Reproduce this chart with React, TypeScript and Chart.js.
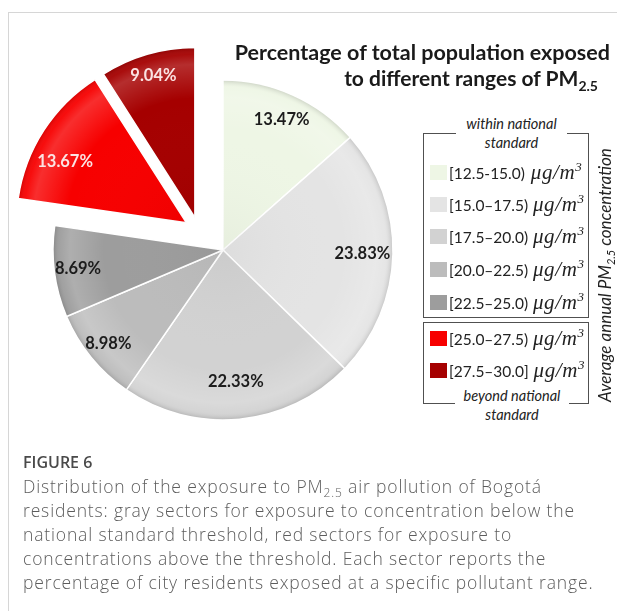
import React, { useEffect, useRef } from "react";
import { Chart, registerables } from "chart.js";

Chart.register(...registerables);

// ---- data ----
const categories = [
  "[12.5-15.0)",
  "[15.0–17.5)",
  "[17.5–20.0)",
  "[20.0–22.5)",
  "[22.5–25.0)",
  "[25.0–27.5)",
  "[27.5–30.0]",
];
const shares = [13.47, 23.83, 22.33, 8.98, 8.69, 13.67, 9.04];
const sliceColors = ["#eef6e5", "#e4e4e4", "#d2d2d2", "#bcbcbc", "#9d9d9d", "#f70000", "#a50000"];
const labelColors = ["#1c1c1c", "#1c1c1c", "#1c1c1c", "#1c1c1c", "#1c1c1c", "#fbe3e3", "#fbe3e3"];
const beyondStandard = [false, false, false, false, false, true, true];
const unitText = "μg/m";
const captionLines = [
  ["Distribution of the exposure to PM", "2.5", " air pollution of Bogotá"],
  ["residents: gray sectors for exposure to concentration below the"],
  ["national standard threshold, red sectors for exposure to"],
  ["concentrations above the threshold. Each sector reports the"],
  ["percentage of city residents exposed at a specific pollutant range."],
];

// label placement style (fraction of radius, angular nudge in degrees)
const labelRadius = [0.84, 0.82, 0.78, 0.87, 0.86, 0.8, 0.87];
const labelNudge = [0, 0, 0, 0, 0, -6, 0];

const explodePlugin = {
  id: "explodeGroup",
  afterDatasetsUpdate(chart: any) {
    chart.$explodeDone = false;
  },
  beforeDatasetsDraw(chart: any, _args: any, opts: any) {
    if (chart.$explodeDone) return;
    const arcs: any[] = chart.getDatasetMeta(0).data;
    const idx = beyondStandard.map((b, i) => (b ? i : -1)).filter((i) => i >= 0);
    if (!idx.length) return;
    const mid = (arcs[idx[0]].startAngle + arcs[idx[idx.length - 1]].endAngle) / 2;
    const gx = Math.cos(mid) * opts.group;
    const gy = Math.sin(mid) * opts.group;
    idx.forEach((i, k) => {
      const a = arcs[i];
      let dx = gx;
      let dy = gy;
      if (k < idx.length - 1) {
        const e = a.endAngle;
        dx += Math.sin(e) * opts.gap;
        dy += -Math.cos(e) * opts.gap;
      }
      a.x += dx;
      a.y += dy;
    });
    chart.$explodeDone = true;
  },
};

const shadePlugin = {
  id: "sliceShade",
  afterDatasetsDraw(chart: any) {
    const ctx = chart.ctx;
    const arcs: any[] = chart.getDatasetMeta(0).data;
    arcs.forEach((a) => {
      const r = a.outerRadius;
      ctx.save();
      ctx.beginPath();
      ctx.moveTo(a.x, a.y);
      ctx.arc(a.x, a.y, r - 0.75, a.startAngle + 0.004, a.endAngle - 0.004);
      ctx.closePath();
      ctx.clip();
      const g = ctx.createRadialGradient(a.x, a.y, 0, a.x, a.y, r);
      g.addColorStop(0, "rgba(0,0,0,0.03)");
      g.addColorStop(0.7, "rgba(255,255,255,0)");
      g.addColorStop(0.9, "rgba(255,255,255,0.18)");
      g.addColorStop(0.96, "rgba(255,255,255,0.05)");
      g.addColorStop(1, "rgba(0,0,0,0.14)");
      ctx.fillStyle = g;
      ctx.fillRect(a.x - r, a.y - r, 2 * r, 2 * r);
      ctx.restore();
    });
  },
};

const labelPlugin = {
  id: "sliceLabels",
  afterDatasetsDraw(chart: any) {
    const ctx = chart.ctx;
    const arcs: any[] = chart.getDatasetMeta(0).data;
    ctx.save();
    ctx.font = "bold 16.5px Lato";
    ctx.textAlign = "center";
    ctx.textBaseline = "middle";
    arcs.forEach((a, i) => {
      const mid = (a.startAngle + a.endAngle) / 2 + (labelNudge[i] * Math.PI) / 180;
      const r = a.outerRadius * labelRadius[i];
      ctx.fillStyle = labelColors[i];
      ctx.fillText(shares[i].toFixed(2) + "%", a.x + Math.cos(mid) * r, a.y + Math.sin(mid) * r);
    });
    ctx.restore();
  },
};

const abs = (s: React.CSSProperties): React.CSSProperties => ({ position: "absolute", ...s });

function Unit({ space }: { space: boolean }) {
  return (
    <span style={{ fontFamily: "'Liberation Serif'", fontStyle: "italic", fontSize: 21, letterSpacing: "0.6px" }}>
      {space ? " " : "\u2009"}
      {unitText}
      <span style={{ fontSize: 13, position: "relative", top: -8 }}>3</span>
    </span>
  );
}

export default function App() {
  const ref = useRef<HTMLCanvasElement | null>(null);

  useEffect(() => {
    if (!ref.current) return;
    const chart = new Chart(ref.current, {
      type: "pie",
      data: {
        labels: categories,
        datasets: [
          {
            data: shares,
            backgroundColor: sliceColors,
            borderColor: "#ffffff",
            borderWidth: 1.5,
          },
        ],
      },
      options: {
        responsive: false,
        animation: false,
        radius: 170,
        rotation: 0,
        layout: { padding: { left: 0, top: 0, right: 171, bottom: 111 } },
        plugins: {
          legend: { display: false },
          tooltip: { enabled: false },
          title: { display: false },
          explodeGroup: { group: 43, gap: 10 },
        } as any,
        events: [],
      },
      plugins: [explodePlugin, shadePlugin, labelPlugin],
    });
    return () => chart.destroy();
  }, []);

  const rowY = [172, 204, 236, 269, 302, 338, 370];
  const lineColor = "#505050";

  return (
    <div style={abs({ left: 0, top: 0, width: 617, height: 611, background: "#fff", overflow: "hidden" })}>
      <div style={abs({ left: 8, top: 12, width: 609, height: 1, background: "#d6d6d6" })} />
      <div style={abs({ left: 8, top: 12, width: 1, height: 599, background: "#d6d6d6" })} />
      <canvas ref={ref} width={617} height={611} style={abs({ left: 0, top: 0 })} />

      {/* title */}
      <div style={abs({ right: 7, top: 39, font: "bold 21.5px Lato", color: "#1a1a1a", lineHeight: "26px", whiteSpace: "nowrap" })}>
        Percentage of total population exposed
      </div>
      <div style={abs({ right: 19, top: 65, font: "bold 21px Lato", color: "#1a1a1a", lineHeight: "26px", whiteSpace: "nowrap" })}>
        to different ranges of PM<span style={{ fontSize: 14, position: "relative", top: 5 }}>2.5</span>
      </div>

      {/* legend boxes */}
      <div style={abs({ left: 423, top: 133, width: 164, height: 183, border: `1px solid ${lineColor}` })} />
      <div style={abs({ left: 423, top: 322, width: 164, height: 80, border: `1px solid ${lineColor}` })} />
      <div
        style={abs({ left: 456, top: 114, width: 111, background: "#fff", textAlign: "center", font: "italic 14.5px Lato", color: "#222", lineHeight: "19px", whiteSpace: "nowrap" })}
      >
        within national
        <br />
        standard
      </div>
      <div
        style={abs({ left: 455, top: 386, width: 114, background: "#fff", textAlign: "center", font: "italic 14.5px Lato", color: "#222", lineHeight: "19px", whiteSpace: "nowrap" })}
      >
        beyond national
        <br />
        standard
      </div>
      {categories.map((c, i) => (
        <React.Fragment key={c}>
          <div style={abs({ left: 430, top: rowY[i] - 7, width: 17, height: 15, background: sliceColors[i] })} />
          <div style={abs({ left: 449, top: rowY[i] - 12, font: "15.5px Lato", color: "#222", lineHeight: "24px", whiteSpace: "nowrap" })}>
            {c}
            <Unit space={i === 0} />
          </div>
        </React.Fragment>
      ))}
      <div
        style={abs({
          left: 605 - 150,
          top: 275 - 11,
          width: 300,
          height: 22,
          lineHeight: "22px",
          textAlign: "center",
          font: "italic 17px Lato",
          color: "#222",
          whiteSpace: "nowrap",
          transform: "rotate(-90deg)",
        })}
      >
        Average annual PM<span style={{ fontSize: 11, position: "relative", top: 4 }}>2.5</span> concentration
      </div>

      {/* caption */}
      <div style={abs({ left: 23, top: 452, font: "600 16px 'Open Sans'", color: "#4a4a4a", lineHeight: "20px" })}>FIGURE 6</div>
      {captionLines.map((parts, i) => (
        <div
          key={i}
          style={abs({
            left: 23,
            top: 474 + i * 24,
            font: "300 17.5px 'Open Sans'",
            letterSpacing: "0.85px",
            color: "#5c5c5c",
            lineHeight: "24px",
            whiteSpace: "nowrap",
          })}
        >
          {parts.length === 3 ? (
            <>
              {parts[0]}
              <span style={{ fontSize: 12, position: "relative", top: 4 }}>{parts[1]}</span>
              {parts[2]}
            </>
          ) : (
            parts[0]
          )}
        </div>
      ))}
    </div>
  );
}
